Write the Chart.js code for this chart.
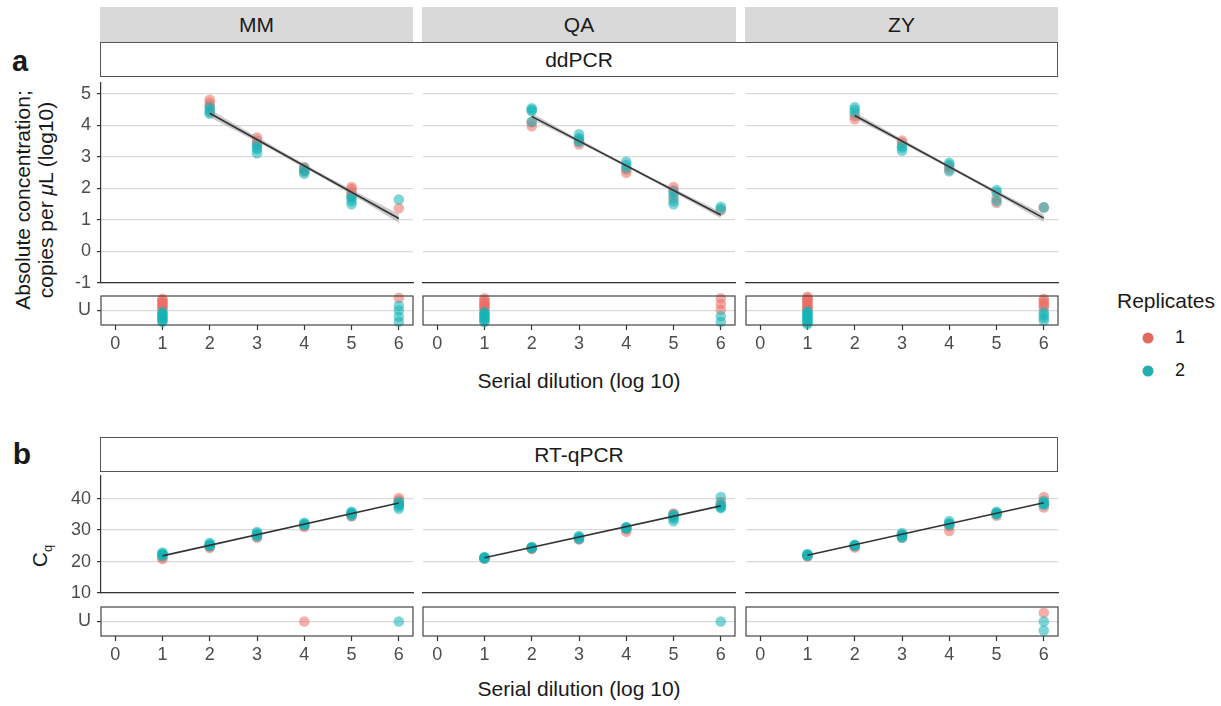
<!DOCTYPE html>
<html><head><meta charset="utf-8">
<script src="https://cdn.jsdelivr.net/npm/chart.js@4.4.1/dist/chart.umd.min.js"></script>
<style>
body{margin:0;background:#fff;width:1221px;height:706px;position:relative;overflow:hidden;font-family:"Liberation Sans",Arial,sans-serif;color:#1a1a1a;}
canvas{position:absolute;}
.t{position:absolute;white-space:nowrap;transform:translate(-50%,-50%);line-height:1.1;}
.strip{position:absolute;background:#d9d9d9;display:flex;align-items:center;justify-content:center;font-size:21px;color:#1a1a1a;}
.box{position:absolute;border:1.2px solid #555;box-sizing:border-box;display:flex;align-items:center;justify-content:center;font-size:21px;color:#1a1a1a;background:#fff;}
.dot{position:absolute;width:11px;height:11px;border-radius:50%;transform:translate(-50%,-50%);}
</style></head><body>
<div class="strip" style="left:100px;top:7px;width:313px;height:35px">MM</div>
<div class="strip" style="left:422px;top:7px;width:314px;height:35px">QA</div>
<div class="strip" style="left:745px;top:7px;width:313px;height:35px">ZY</div>
<div class="box" style="left:100px;top:42px;width:958px;height:35px">ddPCR</div>
<div class="box" style="left:100px;top:437px;width:958px;height:35px">RT-qPCR</div>
<div class="t" style="left:20px;top:62px;font-weight:bold;font-size:29px;">a</div>
<div class="t" style="left:22px;top:453px;font-weight:bold;font-size:30px;">b</div>
<div class="t" style="left:34px;top:200px;font-size:21px;text-align:center;line-height:23px;transform:translate(-50%,-50%) rotate(-90deg);">Absolute concentration;<br>copies per <i>μ</i>L (log10)</div>
<div class="t" style="left:42px;top:556px;font-size:21px;transform:translate(-50%,-50%) rotate(-90deg);">C<sub style="font-size:13px;vertical-align:-5px">q</sub></div>
<div class="t" style="left:579px;top:381px;font-size:21px;">Serial dilution (log 10)</div>
<div class="t" style="left:579px;top:689px;font-size:21px;">Serial dilution (log 10)</div>
<div class="t" style="left:1166px;top:301px;font-size:21px;">Replicates</div>
<div class="dot" style="left:1148px;top:338px;background:#e06a5f"></div>
<div class="dot" style="left:1148px;top:371px;background:#22adaf"></div>
<div class="t" style="left:1180px;top:338px;font-size:18px;">1</div>
<div class="t" style="left:1180px;top:371px;font-size:18px;">2</div>
<script>
// ---------- DATA ----------
const facets = ['MM', 'QA', 'ZY'];
const xTicks = [0, 1, 2, 3, 4, 5, 6];
const ddpcrYTicks = [-1, 0, 1, 2, 3, 4, 5];
const rtqpcrYTicks = [10, 20, 30, 40];
const uTicks = [0];
const uLabel = 'U';

// ddPCR: [serial dilution, log10 copies per uL]
const ddpcr_MM_rep1 = [[2,4.82],[2,4.72],[2,4.62],[3,3.62],[3,3.52],[3,3.42],[4,2.68],[4,2.6],[4,2.55],[5,2.05],[5,1.98],[5,1.88],[5,1.8],[6,1.37]];
const ddpcr_MM_rep2 = [[2,4.58],[2,4.5],[2,4.42],[2,4.38],[3,3.4],[3,3.3],[3,3.25],[3,3.12],[4,2.65],[4,2.55],[4,2.47],[5,1.75],[5,1.7],[5,1.6],[5,1.5],[6,1.65]];
const ddpcr_QA_rep1 = [[2,4.1],[2,3.98],[3,3.5],[3,3.4],[4,2.6],[4,2.5],[5,2.05],[5,1.95],[5,1.7],[6,1.3]];
const ddpcr_QA_rep2 = [[2,4.55],[2,4.5],[2,4.45],[2,4.12],[3,3.72],[3,3.6],[3,3.55],[3,3.48],[4,2.85],[4,2.75],[4,2.65],[5,1.9],[5,1.8],[5,1.6],[5,1.5],[6,1.42],[6,1.35]];
const ddpcr_ZY_rep1 = [[2,4.3],[2,4.2],[3,3.52],[3,3.45],[4,2.7],[4,2.6],[5,1.7],[5,1.55],[6,1.4]];
const ddpcr_ZY_rep2 = [[2,4.58],[2,4.5],[2,4.4],[3,3.35],[3,3.3],[3,3.2],[4,2.82],[4,2.75],[4,2.55],[5,1.95],[5,1.88],[5,1.6],[6,1.4]];

// ddPCR linear fits and confidence bands
const ddpcrFit_MM = [[2,4.39],[6,1.05]];
const ddpcrFit_QA = [[2,4.29],[6,1.16]];
const ddpcrFit_ZY = [[2,4.32],[6,1.06]];
const bandX = [2, 3, 4, 5, 6];
const ddpcrBandHi_MM = [4.52,3.64,2.78,1.97,1.19];
const ddpcrBandLo_MM = [4.26,3.48,2.66,1.81,0.91];
const ddpcrBandHi_QA = [4.38,3.57,2.77,2.0,1.26];
const ddpcrBandLo_QA = [4.20,3.45,2.68,1.88,1.06];
const ddpcrBandHi_ZY = [4.42,3.57,2.74,1.94,1.18];
const ddpcrBandLo_ZY = [4.22,3.44,2.64,1.81,0.94];

// undetermined (U) results: [serial dilution, jitter within the U row]
const ddpcrU_MM_rep1 = [[1,0.1],[1,0.2],[1,0.3],[1,0.4],[1,0.5],[1,0.6],[1,0.7],[1,0.8],[6,0.87]];
const ddpcrU_MM_rep2 = [[1,-0.1],[1,-0.2],[1,-0.3],[1,-0.4],[1,-0.5],[1,-0.6],[1,-0.7],[1,-0.8],[6,0.33],[6,0],[6,-0.43],[6,-0.78]];
const ddpcrU_QA_rep1 = [[1,0.1],[1,0.2],[1,0.3],[1,0.4],[1,0.5],[1,0.6],[1,0.7],[1,0.85],[6,0.85],[6,0.45],[6,0.05]];
const ddpcrU_QA_rep2 = [[1,-0.1],[1,-0.2],[1,-0.3],[1,-0.4],[1,-0.5],[1,-0.6],[1,-0.7],[1,-0.8],[6,-0.4],[6,-0.8]];
const ddpcrU_ZY_rep1 = [[1,0.05],[1,0.15],[1,0.25],[1,0.35],[1,0.45],[1,0.55],[1,0.65],[1,0.75],[1,0.85],[1,0.95],[6,0.8],[6,0.65],[6,0.5],[6,0.35],[6,0.2]];
const ddpcrU_ZY_rep2 = [[1,-0.05],[1,-0.15],[1,-0.25],[1,-0.35],[1,-0.45],[1,-0.55],[1,-0.65],[1,-0.75],[1,-0.85],[1,-0.95],[6,-0.1],[6,-0.3],[6,-0.5],[6,-0.7]];

// RT-qPCR: [serial dilution, Cq]
const rtqpcr_MM_rep1 = [[1,20.8],[1,21.3],[2,24.3],[2,24.8],[3,27.6],[3,28.2],[4,31.0],[4,31.4],[5,34.3],[5,34.8],[6,38.5],[6,39.5],[6,40.2]];
const rtqpcr_MM_rep2 = [[1,21.8],[1,22.0],[1,22.3],[1,22.5],[1,22.9],[2,24.9],[2,25.0],[2,25.3],[2,25.5],[2,26.0],[3,28.0],[3,28.4],[3,28.7],[3,29.0],[3,29.4],[4,31.5],[4,31.8],[4,32.0],[4,32.3],[5,34.6],[5,35.0],[5,35.3],[5,35.5],[5,35.8],[6,36.8],[6,37.5],[6,38.0],[6,38.6],[6,39.0]];
const rtqpcr_QA_rep1 = [[1,20.9],[1,21.2],[2,24.0],[2,24.3],[3,27.0],[3,27.3],[4,29.5],[4,30.3],[5,34.8],[5,35.3],[6,38.0],[6,39.0]];
const rtqpcr_QA_rep2 = [[1,21.0],[1,21.1],[1,21.3],[1,21.4],[2,24.2],[2,24.4],[2,24.5],[2,24.6],[3,27.2],[3,27.5],[3,27.8],[3,28.1],[4,30.5],[4,30.7],[4,30.8],[4,31.0],[5,32.8],[5,33.6],[5,34.2],[5,34.6],[5,35.0],[6,37.0],[6,37.3],[6,37.5],[6,38.2],[6,40.5]];
const rtqpcr_ZY_rep1 = [[1,21.6],[1,22.0],[2,24.5],[2,24.9],[3,27.6],[3,28.4],[4,29.7],[4,31.2],[5,34.6],[5,35.2],[6,37.2],[6,39.0],[6,40.5]];
const rtqpcr_ZY_rep2 = [[1,21.8],[1,22.0],[1,22.2],[1,22.4],[2,25.0],[2,25.1],[2,25.2],[2,25.3],[3,27.6],[3,28.0],[3,28.3],[3,28.6],[3,29.1],[4,31.6],[4,31.9],[4,32.2],[4,32.9],[5,35.0],[5,35.2],[5,35.5],[5,35.8],[6,38.0],[6,38.3],[6,38.6],[6,39.3]];
const rtqpcrFit_MM = [[1,21.8],[6,38.6]];
const rtqpcrFit_QA = [[1,21.2],[6,37.7]];
const rtqpcrFit_ZY = [[1,22.0],[6,38.7]];

const rtqpcrU_MM_rep1 = [[4,0]];
const rtqpcrU_MM_rep2 = [[6,0]];
const rtqpcrU_QA_rep1 = [];
const rtqpcrU_QA_rep2 = [[6,0]];
const rtqpcrU_ZY_rep1 = [[6,0.6]];
const rtqpcrU_ZY_rep2 = [[6,0],[6,-0.62]];

// ---------- STYLE / LAYOUT ----------
const FONT = '"Liberation Sans", Arial, sans-serif';
const colRep1 = 'rgba(236,110,100,0.55)';
const colRep2 = 'rgba(20,178,182,0.55)';
const bandFill = 'rgba(150,150,150,0.5)';
const gridCol = '#d9d9d9';
const axisCol = '#333333';
const tickTextCol = '#4d4d4d';
const panelLeft = [101, 423, 746];
const panelRight = [413, 735, 1058];

Chart.defaults.font.family = FONT;

const boxPlugin = {
  id: 'panelBox',
  afterDraw(chart, args, opts) {
    if (!opts || !opts.on) return;
    const a = chart.chartArea, ctx = chart.ctx;
    ctx.save();
    ctx.strokeStyle = '#444';
    ctx.lineWidth = 1.2;
    ctx.strokeRect(a.left, a.top, a.right - a.left, a.bottom - a.top);
    ctx.restore();
  }
};

const pts = arr => arr.map(p => ({x: p[0], y: p[1]}));
const zipXY = (xs, ys) => xs.map((x, i) => ({x: x, y: ys[i]}));

function scatterSet(data, color) {
  return {type: 'scatter', data: pts(data), backgroundColor: color, borderWidth: 0,
          borderColor: 'rgba(0,0,0,0)', pointRadius: 5.3, pointHoverRadius: 5.3, clip: false};
}

function makeChart(o) {
  const col = o.col;
  const leftReserve = col === 0 ? 50 : 8;
  const left = panelLeft[col] - leftReserve;
  const width = panelRight[col] - panelLeft[col] + leftReserve + 8;
  const top = o.areaTop - 10;
  const height = 10 + o.areaH + (o.showX ? 32 : 10);
  const c = document.createElement('canvas');
  c.width = width; c.height = height;
  c.style.left = left + 'px'; c.style.top = top + 'px';
  c.style.width = width + 'px'; c.style.height = height + 'px';
  document.body.appendChild(c);
  const showY = col === 0;
  new Chart(c, {
    type: 'scatter',
    data: {datasets: o.datasets},
    plugins: [boxPlugin],
    options: {
      responsive: false, animation: false, events: [],
      layout: {padding: {top: 10, bottom: o.showX ? 0 : 10, left: col === 0 ? 4 : 8, right: 8}},
      plugins: {legend: {display: false}, tooltip: {enabled: false}, panelBox: {on: o.boxed}},
      scales: {
        x: {
          type: 'linear', min: -0.3, max: 6.3,
          afterBuildTicks: s => { s.ticks = xTicks.map(v => ({value: v})); },
          ticks: {display: o.showX, color: tickTextCol, font: {size: 18, family: FONT}, padding: 3, maxRotation: 0, autoSkip: false},
          grid: {display: o.showX, drawOnChartArea: false, drawTicks: true, tickLength: 5, tickColor: axisCol, tickWidth: 1.2},
          border: {display: !o.boxed, color: axisCol, width: 1.2},
          afterFit: s => { s.height = o.showX ? 32 : 0; s.paddingLeft = 0; s.paddingRight = 0; }
        },
        y: {
          type: 'linear', min: o.yMin, max: o.yMax,
          afterBuildTicks: s => { s.ticks = o.yTicks.map(v => ({value: v})); },
          ticks: {display: showY, color: tickTextCol, font: {size: 18, family: FONT}, padding: 6,
                  callback: v => o.uRow ? uLabel : String(v)},
          grid: {color: gridCol, lineWidth: 1.2, drawTicks: showY, tickLength: 4, tickColor: axisCol, tickWidth: 1.2},
          border: {display: showY && !o.boxed, color: axisCol, width: 1.2},
          afterFit: s => { s.width = showY ? 46 : 0; s.paddingTop = 0; s.paddingBottom = 0; }
        }
      }
    }
  });
}

const ddpcr = {
  MM: [ddpcr_MM_rep1, ddpcr_MM_rep2, ddpcrFit_MM, ddpcrBandLo_MM, ddpcrBandHi_MM, ddpcrU_MM_rep1, ddpcrU_MM_rep2],
  QA: [ddpcr_QA_rep1, ddpcr_QA_rep2, ddpcrFit_QA, ddpcrBandLo_QA, ddpcrBandHi_QA, ddpcrU_QA_rep1, ddpcrU_QA_rep2],
  ZY: [ddpcr_ZY_rep1, ddpcr_ZY_rep2, ddpcrFit_ZY, ddpcrBandLo_ZY, ddpcrBandHi_ZY, ddpcrU_ZY_rep1, ddpcrU_ZY_rep2]
};
const rtqpcr = {
  MM: [rtqpcr_MM_rep1, rtqpcr_MM_rep2, rtqpcrFit_MM, rtqpcrU_MM_rep1, rtqpcrU_MM_rep2],
  QA: [rtqpcr_QA_rep1, rtqpcr_QA_rep2, rtqpcrFit_QA, rtqpcrU_QA_rep1, rtqpcrU_QA_rep2],
  ZY: [rtqpcr_ZY_rep1, rtqpcr_ZY_rep2, rtqpcrFit_ZY, rtqpcrU_ZY_rep1, rtqpcrU_ZY_rep2]
};

function fitLine(d) {
  return {type: 'line', data: pts(d), borderColor: '#333', borderWidth: 1.6, pointRadius: 0, fill: false, clip: false};
}

facets.forEach((f, col) => {
  const [r1, r2, fit, lo, hi, u1, u2] = ddpcr[f];
  makeChart({col, areaTop: 83, areaH: 200, showX: false, boxed: false, uRow: false,
    yMin: -1, yMax: 5.35, yTicks: ddpcrYTicks,
    datasets: [
      fitLine(fit),
      {type: 'line', data: zipXY(bandX, lo), borderColor: 'rgba(0,0,0,0)', borderWidth: 1, pointRadius: 0, fill: false, tension: 0.4},
      {type: 'line', data: zipXY(bandX, hi), borderColor: 'rgba(0,0,0,0)', borderWidth: 1, pointRadius: 0, fill: '-1', backgroundColor: bandFill, tension: 0.4},
      scatterSet(r2, colRep2), scatterSet(r1, colRep1)
    ]});
  makeChart({col, areaTop: 296, areaH: 29, showX: true, boxed: true, uRow: true,
    yMin: -1, yMax: 1, yTicks: uTicks,
    datasets: [scatterSet(u2, colRep2), scatterSet(u1, colRep1)]});

  const [q1, q2, qfit, qu1, qu2] = rtqpcr[f];
  makeChart({col, areaTop: 476, areaH: 117, showX: false, boxed: false, uRow: false,
    yMin: 10, yMax: 47.2, yTicks: rtqpcrYTicks,
    datasets: [fitLine(qfit), scatterSet(q2, colRep2), scatterSet(q1, colRep1)]});
  makeChart({col, areaTop: 607, areaH: 29, showX: true, boxed: true, uRow: true,
    yMin: -1, yMax: 1, yTicks: uTicks,
    datasets: [scatterSet(qu2, colRep2), scatterSet(qu1, colRep1)]});
});
</script>
</body></html>
